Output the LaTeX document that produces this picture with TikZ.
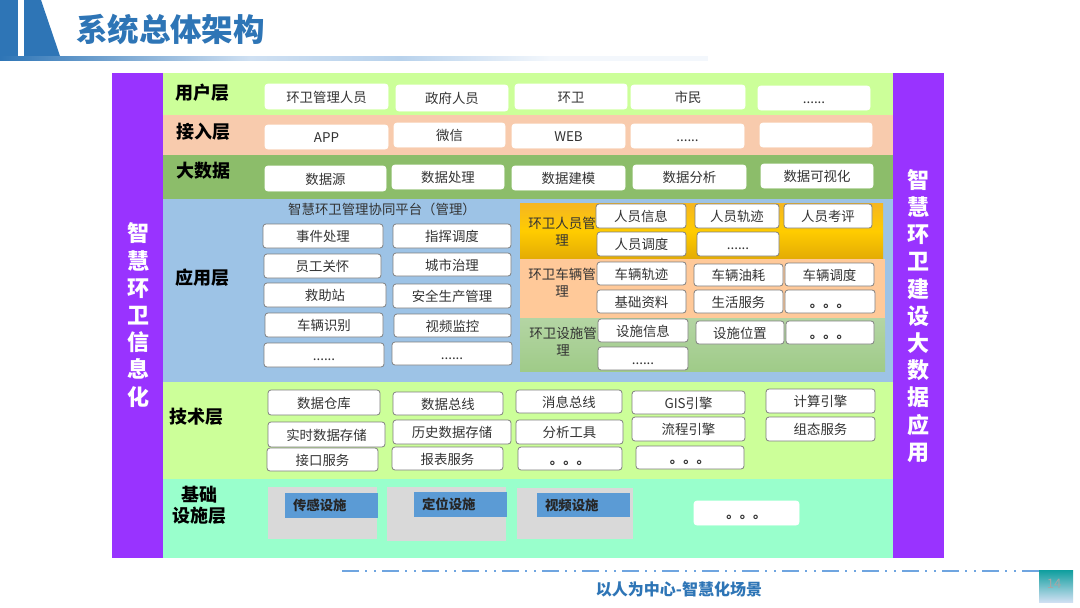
\documentclass[tikz,border=0pt]{standalone}
\usepackage{fontspec}
\setmainfont{Noto Sans CJK SC}
\definecolor{headblue}{HTML}{2E75B6}
\definecolor{barpale}{HTML}{CFE0F2}
\definecolor{barmid}{HTML}{B8D2EC}
\definecolor{barend}{HTML}{F3F7FC}
\definecolor{sidepurple}{HTML}{9933FF}
\definecolor{layerlime}{HTML}{CCFF99}
\definecolor{layerpeach}{HTML}{F8CBAD}
\definecolor{layergreen}{HTML}{8CBD6A}
\definecolor{layerblue}{HTML}{9DC3E6}
\definecolor{layermint}{HTML}{99FFCC}
\definecolor{orangetop}{HTML}{F5B622}
\definecolor{orangemid}{HTML}{FFCC00}
\definecolor{orangebot}{HTML}{E3AB05}
\definecolor{carpeach}{HTML}{FFC999}
\definecolor{sitetop}{HTML}{B4D5A4}
\definecolor{sitebot}{HTML}{9FCB88}
\definecolor{basegray}{HTML}{D9D9D9}
\definecolor{baseblue}{HTML}{5B9BD5}
\definecolor{cellline}{HTML}{7F7F7F}
\definecolor{celltext}{HTML}{333333}
\definecolor{footdash}{HTML}{6FA5E0}
\definecolor{pagetop}{HTML}{0E9E9E}
\definecolor{pagebot}{HTML}{CFDFF2}
\tikzset{
	layerlabel/.style={font=\fontsize{18}{21.5}\selectfont\bfseries, text=black, align=center, inner sep=0pt},
	sidelabel/.style={font=\fontsize{22}{27.2}\selectfont\bfseries, text=white, align=center, inner sep=0pt},
	grouplabel/.style={font=\fontsize{13.5}{17}\selectfont, text=celltext, align=center, inner sep=0pt},
	cellstyle/.style={draw=cellline, line width=0.8pt, fill=white, rounded corners=3pt, inner sep=0pt, text height=13pt, text depth=2pt, font=\fontsize{13.4}{16}\selectfont, text=celltext},
	plaincell/.style={cellstyle, draw=white},
	bluecell/.style={draw=none, fill=baseblue, inner sep=0pt, text width=77pt, align=left, font=\fontsize{13.4}{16}\selectfont\bfseries, text=black!85}
}
\def\cellbox[#1](#2)(#3,#4,#5,#6)#7{\node[#1, minimum width={(#5-#3)*1pt}, minimum height={(#6-#4)*1pt}] (#2) at ({(#3+#5)/2},{(#4+#6)/2}) {#7};}
\def\celldots{{\bfseries 。。。}}
\begin{document}
\begin{tikzpicture}[x=1pt,y=-1pt]
	\useasboundingbox (0,0) rectangle (1080,608);
	\fill[white] (0,0) rectangle (1080,608);
	
	%%%%% HEADER %%%%%
	\fill[headblue] (0,0) rectangle (18,56);
	\fill[headblue] (24,0) -- (41,0) -- (60,56) -- (24,56) -- cycle;
	\shade[left color=headblue, right color=barpale] (0,56) rectangle (250,60.5);
	\shade[left color=barpale, right color=barmid] (250,56) rectangle (400,60.5);
	\shade[left color=barmid, right color=barend] (400,56) rectangle (550,60.5);
	\fill[barend] (550,56) rectangle (708,60.5);
	\node[font=\fontsize{31.5}{36}\selectfont\bfseries, text=headblue, inner sep=0pt] (title) at (170.5,29) {系统总体架构};
	
	%%%%% LAYERS %%%%%
	\fill[sidepurple] (112,73) rectangle (163,558);
	\fill[sidepurple] (893,73) rectangle (944,558);
	\fill[layerlime] (163,73) rectangle (893,115);
	\fill[layerpeach] (163,115) rectangle (893,155);
	\fill[layergreen] (163,155) rectangle (893,199);
	\fill[layerblue] (163,199) rectangle (893,382);
	\fill[layerlime] (163,382) rectangle (893,479);
	\fill[layermint] (163,479) rectangle (893,558);
	
	\node[sidelabel] (sideleft) at (138,315) {智\\慧\\环\\卫\\信\\息\\化};
	\node[sidelabel] (sideright) at (918,316) {智\\慧\\环\\卫\\建\\设\\大\\数\\据\\应\\用};
	
	\node[layerlabel] (userlabel) at (202,93) {用户层};
	\node[layerlabel] (accesslabel) at (203,132) {接入层};
	\node[layerlabel] (datalabel) at (203,171) {大数据};
	\node[layerlabel] (applabel) at (202,278) {应用层};
	\node[layerlabel] (techlabel) at (196,417) {技术层};
	\node[layerlabel] (baselabel) at (199,505.5) {基础\\设施层};
	
	%%%%% USER ROW %%%%%
	\cellbox[plaincell](user1)(265,84,388,109){环卫管理人员}
	\cellbox[plaincell](user2)(396,85,508,111){政府人员}
	\cellbox[plaincell](user3)(515,84,627,109){环卫}
	\cellbox[plaincell](user4)(631,85,745,109){市民}
	\cellbox[plaincell](user5)(758,86,870,110){......}
	
	%%%%% ACCESS ROW %%%%%
	\cellbox[plaincell](access1)(265,125,388,149){APP}
	\cellbox[plaincell](access2)(394,123,505,147){微信}
	\cellbox[plaincell](access3)(512,124,625,148){WEB}
	\cellbox[plaincell](access4)(631,124,744,148){......}
	\cellbox[plaincell](access5)(760,123,872,147){}
	
	%%%%% DATA ROW %%%%%
	\cellbox[plaincell](data1)(265,166,386,191){数据源}
	\cellbox[plaincell](data2)(392,165,504,189){数据处理}
	\cellbox[plaincell](data3)(512,166,625,190){数据建模}
	\cellbox[plaincell](data4)(633,165,746,189){数据分析}
	\cellbox[plaincell](data5)(761,164,873,188){数据可视化}
	
	%%%%% APP LEFT %%%%%
	\node[font=\fontsize{13.4}{16}\selectfont, text=celltext, inner sep=0pt] (apptitle) at (382,209) {智慧环卫管理协同平台（管理）};
	\cellbox[cellstyle](app1)(263,224,383,248){事件处理}
	\cellbox[cellstyle](app2)(393,224,511,248){指挥调度}
	\cellbox[cellstyle](app3)(264,254,381,278){员工关怀}
	\cellbox[cellstyle](app4)(393,253,511,276){城市治理}
	\cellbox[cellstyle](app5)(264,283,386,307){救助站}
	\cellbox[cellstyle](app6)(393,284,511,308){安全生产管理}
	\cellbox[cellstyle](app7)(265,313,383,337){车辆识别}
	\cellbox[cellstyle](app8)(394,314,511,337){视频监控}
	\cellbox[cellstyle](app9)(264,343,384,367){......}
	\cellbox[cellstyle](app10)(392,342,512,365){......}
	
	%%%%% APP RIGHT %%%%%
	\shade[top color=orangetop, bottom color=orangebot, middle color=orangemid] (520,203) rectangle (883,259);
	\fill[carpeach] (520,259) rectangle (885,318);
	\shade[top color=sitetop, bottom color=sitebot] (520,318) rectangle (885,371);
	
	\node[grouplabel] (staffgroup) at (562,232) {环卫人员管\\理};
	\node[grouplabel] (cargroup) at (562,283) {环卫车辆管\\理};
	\node[grouplabel] (sitegroup) at (563,342) {环卫设施管\\理};
	
	\cellbox[cellstyle](staff1)(596,204,686,228){人员信息}
	\cellbox[cellstyle](staff2)(695,204,779,228){人员轨迹}
	\cellbox[cellstyle](staff3)(784,204,872,228){人员考评}
	\cellbox[cellstyle](staff4)(597,232,686,256){人员调度}
	\cellbox[cellstyle](staff5)(697,232,779,256){......}
	
	\cellbox[cellstyle](car1)(597,262,686,285){车辆轨迹}
	\cellbox[cellstyle](car2)(694,264,783,286){车辆油耗}
	\cellbox[cellstyle](car3)(785,263,874,286){车辆调度}
	\cellbox[cellstyle](car4)(597,290,686,313){基础资料}
	\cellbox[cellstyle](car5)(694,290,783,313){生活服务}
	\cellbox[cellstyle](car6)(785,290,875,313){\celldots}
	
	\cellbox[cellstyle](site1)(598,319,688,342){设施信息}
	\cellbox[cellstyle](site2)(696,321,784,344){设施位置}
	\cellbox[cellstyle](site3)(786,321,874,344){\celldots}
	\cellbox[cellstyle](site4)(598,347,688,370){......}
	
	%%%%% TECH %%%%%
	\cellbox[cellstyle](tech1)(268,390,380,415){数据仓库}
	\cellbox[cellstyle](tech2)(393,392,503,415){数据总线}
	\cellbox[cellstyle](tech3)(516,390,622,413){消息总线}
	\cellbox[cellstyle](tech4)(632,391,745,414){GIS引擎}
	\cellbox[cellstyle](tech5)(766,389,875,413){计算引擎}
	\cellbox[cellstyle](tech6)(268,422,385,447){实时数据存储}
	\cellbox[cellstyle](tech7)(393,420,511,444){历史数据存储}
	\cellbox[cellstyle](tech8)(516,420,623,444){分析工具}
	\cellbox[cellstyle](tech9)(632,417,745,441){流程引擎}
	\cellbox[cellstyle](tech10)(766,417,875,441){组态服务}
	\cellbox[cellstyle](tech11)(267,448,378,471){接口服务}
	\cellbox[cellstyle](tech12)(392,447,503,470){报表服务}
	\cellbox[cellstyle](tech13)(518,447,622,470){\celldots}
	\cellbox[cellstyle](tech14)(636,446,744,469){\celldots}
	
	%%%%% BASE %%%%%
	\fill[basegray] (268,487) rectangle (377,539);
	\fill[basegray] (387,487) rectangle (506,541);
	\fill[basegray] (517,488) rectangle (633,539);
	\cellbox[bluecell](base1)(285,493,378,518){传感设施}
	\cellbox[bluecell](base2)(414,492,507,517){定位设施}
	\cellbox[bluecell](base3)(537,493,630,517){视频设施}
	\cellbox[plaincell](base4)(694,501,799,525){\celldots}
	
	%%%%% FOOTER %%%%%
	\draw[footdash, line width=2pt, dash pattern=on 17pt off 6pt on 2pt off 7pt on 2pt off 6pt] (342,570.5) -- (1039,570.5);
	\shade[top color=pagetop, bottom color=pagebot] (1039,570) rectangle (1073,602);
	\node[font=\fontsize{13}{14}\selectfont, text=black!35, inner sep=0pt] (pagenum) at (1054,584) {14};
	\node[font=\fontsize{16}{18}\selectfont\bfseries, text=headblue, inner sep=0pt] (foottitle) at (679,589) {以人为中心-智慧化场景};
\end{tikzpicture}
\end{document}
